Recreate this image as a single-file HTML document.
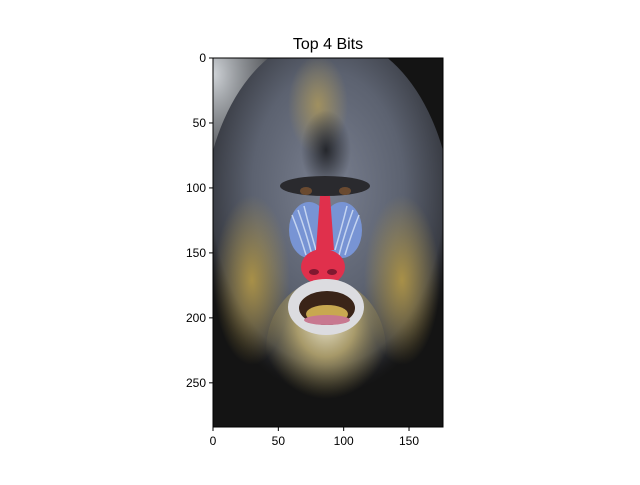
<!DOCTYPE html>
<html>
<head>
<meta charset="utf-8">
<style>
  html,body{margin:0;padding:0;background:#fff;}
  body{width:640px;height:480px;overflow:hidden;font-family:"Liberation Sans","DejaVu Sans",sans-serif;}
</style>
</head>
<body>
<svg id="chart" width="640" height="480" viewBox="0 0 640 480" xmlns="http://www.w3.org/2000/svg">
  <defs>
    <radialGradient id="furG" cx="0.5" cy="0.4" r="0.55">
      <stop offset="0" stop-color="#7a8090"/>
      <stop offset="0.55" stop-color="#5c6270"/>
      <stop offset="0.85" stop-color="#3a3d45"/>
      <stop offset="1" stop-color="#1a1a1c" stop-opacity="0"/>
    </radialGradient>
    <radialGradient id="yelG" cx="0.5" cy="0.5" r="0.5">
      <stop offset="0" stop-color="#a89048"/>
      <stop offset="1" stop-color="#a89048" stop-opacity="0"/>
    </radialGradient>
    <radialGradient id="crestG" cx="0.5" cy="0.5" r="0.5">
      <stop offset="0" stop-color="#a09060"/>
      <stop offset="1" stop-color="#a09060" stop-opacity="0"/>
    </radialGradient>
    <radialGradient id="cornerG" cx="0" cy="0.1" r="0.9">
      <stop offset="0" stop-color="#d0d4d8"/>
      <stop offset="0.5" stop-color="#8a8e94" stop-opacity="0.7"/>
      <stop offset="1" stop-color="#303030" stop-opacity="0"/>
    </radialGradient>
    <radialGradient id="beardG" cx="0.5" cy="0.3" r="0.55">
      <stop offset="0" stop-color="#e8e4d0"/>
      <stop offset="0.45" stop-color="#c0ae70" stop-opacity="0.8"/>
      <stop offset="1" stop-color="#8a7a40" stop-opacity="0"/>
    </radialGradient>
    <radialGradient id="darkG" cx="0.5" cy="0.5" r="0.5">
      <stop offset="0" stop-color="#25272c"/>
      <stop offset="1" stop-color="#25272c" stop-opacity="0"/>
    </radialGradient>
    <clipPath id="imgClip"><rect x="213" y="58" width="230" height="369"/></clipPath>
  </defs>
  <text x="328" y="49" text-anchor="middle" font-size="16" fill="#000">Top 4 Bits</text>
  <g id="img" clip-path="url(#imgClip)">
    <rect x="213" y="58" width="230" height="369" fill="#141414"/>
    <rect x="213" y="58" width="110" height="160" fill="url(#cornerG)"/>
    <ellipse cx="328" cy="225" rx="125" ry="190" fill="url(#furG)"/>
    <ellipse cx="318" cy="105" rx="30" ry="50" fill="url(#crestG)"/>
    <ellipse cx="326" cy="150" rx="25" ry="40" fill="url(#darkG)"/>
    <ellipse cx="252" cy="280" rx="38" ry="85" fill="url(#yelG)"/>
    <ellipse cx="402" cy="280" rx="38" ry="85" fill="url(#yelG)"/>
    <ellipse cx="326" cy="350" rx="60" ry="70" fill="url(#beardG)"/>
    <ellipse cx="325" cy="186" rx="45" ry="10" fill="#2a2a2e"/>
    <ellipse cx="306" cy="191" rx="6" ry="4" fill="#6a4a30"/>
    <ellipse cx="345" cy="191" rx="6" ry="4" fill="#6a4a30"/>
    <ellipse cx="309" cy="230" rx="20" ry="28" fill="#7894d4"/>
    <ellipse cx="342" cy="230" rx="20" ry="28" fill="#7894d4"/>
    <g stroke="#d8e4f8" stroke-width="1.5" fill="none" opacity="0.8">
      <path d="M292 215 Q300 235 306 255"/><path d="M298 210 Q306 232 312 255"/><path d="M304 206 Q310 230 316 250"/>
      <path d="M359 215 Q351 235 345 255"/><path d="M353 210 Q345 232 339 255"/><path d="M347 206 Q341 230 335 250"/>
    </g>
    <path d="M320 196 L330 196 L334 250 L316 250 Z" fill="#e0304c"/>
    <ellipse cx="323" cy="267" rx="22" ry="18" fill="#e0304c"/>
    <ellipse cx="314" cy="272" rx="5" ry="3" fill="#801830"/>
    <ellipse cx="332" cy="272" rx="5" ry="3" fill="#801830"/>
    <ellipse cx="326" cy="307" rx="38" ry="28" fill="#dcdce0"/>
    <ellipse cx="327" cy="308" rx="28" ry="17" fill="#3a2418"/>
    <ellipse cx="327" cy="314" rx="21" ry="9" fill="#c8a850"/>
    <ellipse cx="327" cy="320" rx="23" ry="5" fill="#c87890"/>
  </g>
  <rect x="213" y="58" width="230" height="369" fill="none" stroke="#000" stroke-width="1"/>
  <g id="xticks"></g>
  <g id="yticks"></g>
</svg>
<script>
const xTickValues = [0, 50, 100, 150];
const yTickValues = [0, 50, 100, 150, 200, 250];
const imgWidth = 176;
const imgHeight = 284;
const ns = "http://www.w3.org/2000/svg";
const ax = {left:213, top:58, w:230, h:369};
function xScale(v){ return ax.left + v / imgWidth * ax.w; }
function yScale(v){ return ax.top + v / imgHeight * ax.h; }
const xg = document.getElementById('xticks');
xTickValues.forEach(v => {
  const x = xScale(v);
  const l = document.createElementNS(ns,'line');
  
  
  l.setAttribute('x1',x); l.setAttribute('x2',x);
  l.setAttribute('y1',ax.top+ax.h); l.setAttribute('y2',ax.top+ax.h+4);
  l.setAttribute('stroke','#000');
  xg.appendChild(l);
  const t = document.createElementNS(ns,'text');
  
  
  t.setAttribute('x',x); t.setAttribute('y',ax.top+ax.h+18);
  t.setAttribute('text-anchor','middle'); t.setAttribute('font-size','12');
  t.textContent = v;
  xg.appendChild(t);
});
const yg = document.getElementById('yticks');
yTickValues.forEach(v => {
  const y = yScale(v);
  const l = document.createElementNS(ns,'line');
  
  
  l.setAttribute('x1',ax.left-4); l.setAttribute('x2',ax.left);
  l.setAttribute('y1',y); l.setAttribute('y2',y);
  l.setAttribute('stroke','#000');
  yg.appendChild(l);
  const t = document.createElementNS(ns,'text');
  
  
  t.setAttribute('x',ax.left-7); t.setAttribute('y',y+4);
  t.setAttribute('text-anchor','end'); t.setAttribute('font-size','12');
  t.textContent = v;
  yg.appendChild(t);
});
</script>
</body>
</html>
